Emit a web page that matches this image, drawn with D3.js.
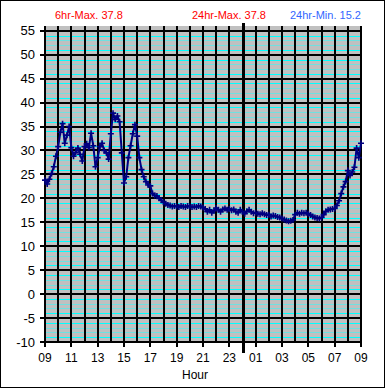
<!DOCTYPE html>
<html><head><meta charset="utf-8">
<script src="https://cdn.jsdelivr.net/npm/d3@7"></script>
<style>body{margin:0;background:#fff}svg{display:block}</style>
</head><body><svg id="c" width="385" height="388"></svg>
<script>
// Temperature readings every 10 minutes, 09:00 to 09:00 next day
const tempValues = [
 23.8,23.0,24.0,25.2,26.6,28.8,
 30.8,33.8,35.6,31.5,33.2,35.0,
 30.6,28.8,29.6,30.5,29.2,27.8,
 30.8,31.4,30.6,33.6,31.0,26.6,
 28.5,30.8,31.5,30.0,29.5,28.2,
 33.5,37.8,36.5,37.2,36.0,29.5,
 23.2,24.5,28.5,31.0,33.5,35.4,
 33.0,28.5,26.0,24.5,23.5,22.8,
 22.6,21.0,20.6,20.5,20.0,19.6,
 19.2,18.9,18.6,18.5,18.3,18.4,
 18.3,18.2,18.4,18.3,18.2,18.4,
 18.3,18.2,18.3,18.2,18.4,18.3,
 18.1,17.8,17.2,17.6,17.0,17.4,
 18.0,17.6,17.2,17.7,17.9,17.6,
 17.8,17.5,17.7,17.2,17.0,17.6,
 17.2,16.8,17.3,17.6,17.2,16.9,
 17.0,16.8,16.7,16.9,16.7,16.5,
 16.6,16.2,16.4,16.3,16.1,16.0,
 15.8,15.6,15.4,15.2,15.3,15.5,
 16.6,17.0,16.8,17.0,16.9,17.0,
 16.8,16.5,16.2,16.0,15.9,15.8,
 16.0,16.6,17.3,17.6,17.7,17.8,
 17.9,18.5,19.5,21.0,22.4,23.5,
 25.8,24.8,25.5,26.5,30.5,28.5,
 31.5
];
const stepMinutes = 10;
const xTickLabels = ["09","11","13","15","17","19","21","23","01","03","05","07","09"];
const yTickValues = [-10,-5,0,5,10,15,20,25,30,35,40,45,50,55];
const titleTexts = ["6hr-Max. 37.8","24hr-Max. 37.8","24hr-Min. 15.2"];
const axisTitle = "Hour";

const svg = d3.select("#c");
svg.append("rect").attr("x",0.5).attr("y",0.5).attr("width",384).attr("height",387)
  .attr("fill","#fff").attr("stroke","#000");

const L=45,R=361,T=26,B=342;
const x = d3.scaleLinear().domain([0,24]).range([L,R]);
const y = d3.scaleLinear().domain([-10,56]).range([B,T]);
const font = "'Liberation Sans', Arial, sans-serif";
const snap1 = v => Math.round(v)+0.5;
const snap2 = v => Math.round(v);

svg.append("rect").attr("x",L).attr("y",T).attr("width",R-L).attr("height",B-T).attr("fill","#c0c0c0");

// minor gridlines every 1 unit
const minor = d3.range(-9,56).filter(v=>v%5!==0);
svg.append("g").selectAll("line").data(minor).join("line")
  .attr("x1",L).attr("x2",R).attr("y1",d=>snap1(y(d))).attr("y2",d=>snap1(y(d)))
  .attr("stroke",(d,i)=>(((d%5)+5)%5===1||((d%5)+5)%5===4)?"#00ffff":"#70e0e0").attr("stroke-width",1);

// major horizontal gridlines
svg.append("g").selectAll("line").data(yTickValues).join("line")
  .attr("x1",L-5).attr("x2",R).attr("y1",d=>snap2(y(d))).attr("y2",d=>snap2(y(d)))
  .attr("stroke","#000").attr("stroke-width",2);

// vertical gridlines every hour
svg.append("g").selectAll("line").data(d3.range(0,25)).join("line")
  .attr("x1",d=>snap2(x(d))).attr("x2",d=>snap2(x(d))).attr("y1",T).attr("y2",d=>d%2===0?B+5:B)
  .attr("stroke","#000").attr("stroke-width",2);

// midnight line
svg.append("line").attr("x1",snap1(x(15))).attr("x2",snap1(x(15))).attr("y1",T-3).attr("y2",B+11)
  .attr("stroke","#000").attr("stroke-width",3);

// y labels
svg.append("g").selectAll("text").data(yTickValues).join("text")
  .attr("x",35).attr("y",d=>y(d)).attr("dy","0.36em").attr("text-anchor","end")
  .attr("font-family",font).attr("font-size",13).text(d=>d);

// x labels
svg.append("g").selectAll("text").data(xTickLabels).join("text")
  .attr("x",(d,i)=>x(i*2)).attr("y",362).attr("text-anchor","middle")
  .attr("font-family",font).attr("font-size",12).text(d=>d);

svg.append("text").attr("x",195).attr("y",379).attr("text-anchor","middle")
  .attr("font-family",font).attr("font-size",12).text(axisTitle);

// titles
const titleX=[55,192,290], titleCol=["#ff0000","#ff0000","#3366ff"];
svg.append("g").selectAll("text").data(titleTexts).join("text")
  .attr("x",(d,i)=>titleX[i]).attr("y",19).attr("fill",(d,i)=>titleCol[i])
  .attr("font-family",font).attr("font-size",11).text(d=>d);

// series
const pts = tempValues.map((v,i)=>[i*stepMinutes/60, v]);
svg.append("path").datum(pts)
  .attr("d",d3.line().x(d=>x(d[0])).y(d=>y(d[1])))
  .attr("fill","none").attr("stroke","#000080").attr("stroke-width",2);
svg.append("g").selectAll("path").data(pts).join("path")
  .attr("transform",d=>`translate(${x(d[0])},${y(d[1])})`)
  .attr("d","M-3,0H3M0,-3V3")
  .attr("stroke","#000080").attr("stroke-width",1.6).attr("fill","none");
</script></body></html>
